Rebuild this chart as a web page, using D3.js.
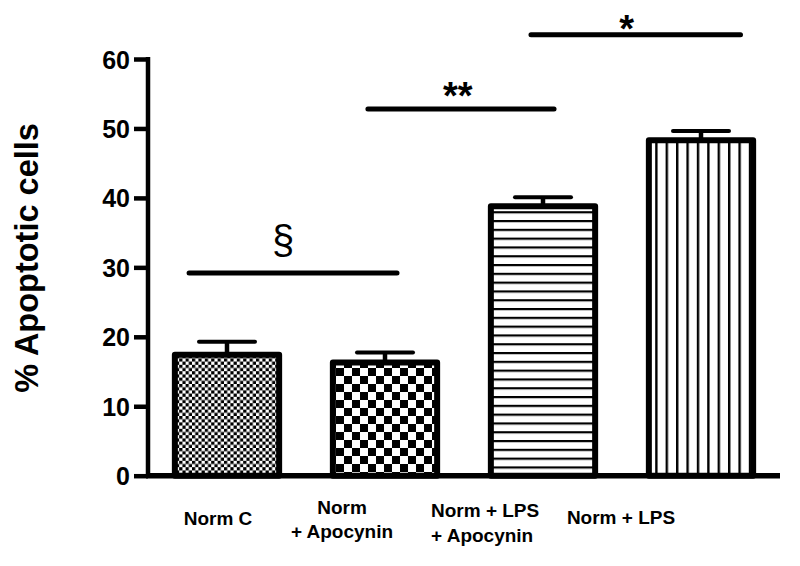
<!DOCTYPE html>
<html><head><meta charset="utf-8">
<script src="https://cdn.jsdelivr.net/npm/d3@7"></script>
<style>body{margin:0;background:#fff}svg{display:block}text{font-family:Arial,"Liberation Sans",sans-serif;font-weight:bold;fill:#000}</style>
</head><body><svg id="c" width="800" height="566"></svg>
<script>
// ---- data ----
const categories = ["Norm C", "Norm + Apocynin", "Norm + LPS + Apocynin", "Norm + LPS"];
const labelLines = [["Norm C"], ["Norm", "+ Apocynin"], ["Norm + LPS", "+ Apocynin"], ["Norm + LPS"]];
const means = [17.4, 16.3, 38.8, 48.3];
const errors = [1.9, 1.45, 1.3, 1.35];
const patterns = ["checkSmall", "checkLarge", "hlines", "vlines"];
const yTicks = [0, 10, 20, 30, 40, 50, 60];
const yTitle = "% Apoptotic cells";
// significance brackets: from/to in category-index units, level in y units
const sigFrom = [-0.24, 0.892, 1.924];
const sigTo = [1.076, 2.07, 3.25];
const sigLevel = [29.2, 52.8, 63.5];
const sigText = ["§", "**", "*"];
const sigTextPos = [0.355, 1.46, 2.53];

const svg = d3.select("#c");
const x = d3.scaleBand().domain(categories).range([148, 780]).paddingInner(0.34).paddingOuter(0.17);
const y = d3.scaleLinear().domain([0, 60]).range([475.7, 59]);
const step = x.step();
const xi = i => x(categories[0]) + x.bandwidth() / 2 + i * step;

// patterns
const defs = svg.append("defs");
function checker(id, s) {
  const p = defs.append("pattern").attr("id", id).attr("patternUnits", "userSpaceOnUse")
    .attr("width", 2 * s).attr("height", 2 * s);
  p.append("rect").attr("width", 2 * s).attr("height", 2 * s).attr("fill", "#fff");
  p.append("rect").attr("width", s).attr("height", s).attr("fill", "#000");
  p.append("rect").attr("x", s).attr("y", s).attr("width", s).attr("height", s).attr("fill", "#000");
}
checker("checkSmall", 3.2);
checker("checkLarge", 8);
{
  const p = defs.append("pattern").attr("id", "hlines").attr("patternUnits", "userSpaceOnUse").attr("width", 10).attr("height", 8.8);
  p.append("rect").attr("width", 10).attr("height", 8.8).attr("fill", "#fff");
  p.append("rect").attr("y", 0).attr("width", 10).attr("height", 2.2).attr("fill", "#000");
}
{
  const p = defs.append("pattern").attr("id", "vlines").attr("patternUnits", "userSpaceOnUse").attr("width", 10.4).attr("height", 10);
  p.append("rect").attr("width", 10.4).attr("height", 10).attr("fill", "#fff");
  p.append("rect").attr("x", 0).attr("width", 2.4).attr("height", 10).attr("fill", "#000");
}

// error bars (behind bars)
const capW = 56;
categories.forEach((c, i) => {
  const cx = x(c) + x.bandwidth() / 2;
  svg.append("line").attr("x1", cx).attr("x2", cx).attr("y1", y(means[i])).attr("y2", y(means[i] + errors[i]))
    .attr("stroke", "#000").attr("stroke-width", 4.5);
  svg.append("line").attr("x1", cx - capW / 2).attr("x2", cx + capW / 2).attr("y1", y(means[i] + errors[i])).attr("y2", y(means[i] + errors[i]))
    .attr("stroke", "#000").attr("stroke-width", 4).attr("stroke-linecap", "round");
});

// bars
svg.selectAll("rect.bar").data(categories).join("rect").attr("class", "bar")
  .attr("x", d => x(d)).attr("width", x.bandwidth())
  .attr("y", (d, i) => y(means[i])).attr("height", (d, i) => y(0) - y(means[i]))
  .attr("fill", (d, i) => `url(#${patterns[i]})`)
  .attr("stroke", "#000").attr("stroke-width", 6).attr("stroke-linejoin", "round");

// y axis
const yAxis = svg.append("g").attr("transform", "translate(148,0)")
  .call(d3.axisLeft(y).tickValues(yTicks).tickSize(14).tickPadding(4));
yAxis.select(".domain").attr("stroke-width", 4.5).attr("d", `M0,${y(60) - 2}V${y(0)}`);
yAxis.selectAll(".tick line").attr("stroke-width", 4.5);
yAxis.selectAll(".tick text").style("font-size", "25px").style("font-family", "Arial,'Liberation Sans',sans-serif").style("font-weight", "bold").attr("dy", "0.36em");

// x axis line
svg.append("line").attr("x1", 146).attr("x2", 780).attr("y1", y(0)).attr("y2", y(0)).attr("stroke", "#000").attr("stroke-width", 5.5);

// y title
svg.append("text").attr("transform", `translate(38,258) rotate(-90)`).attr("text-anchor", "middle")
  .style("font-size", "32.5px").text(yTitle);

// x labels
const labelDx = [-9, -43, -112, -80];
const labelAnchor = ["middle", "middle", "start", "middle"];
const labelBase = [[525], [514, 538], [517, 542], [524]];
labelLines.forEach((lines, i) => {
  const cx = x(categories[i]) + x.bandwidth() / 2 + labelDx[i];
  lines.forEach((t, j) => {
    svg.append("text").attr("x", cx).attr("y", labelBase[i][j]).attr("text-anchor", labelAnchor[i])
      .style("font-size", "19px").text(t);
  });
});

// significance brackets
sigText.forEach((t, i) => {
  svg.append("line").attr("x1", xi(sigFrom[i])).attr("x2", xi(sigTo[i])).attr("y1", y(sigLevel[i])).attr("y2", y(sigLevel[i]))
    .attr("stroke", "#000").attr("stroke-width", 5).attr("stroke-linecap", "round");
});
svg.append("text").attr("x", xi(sigTextPos[0])).attr("y", 254).attr("text-anchor", "middle").style("font-size", "40px").style("font-weight", "normal").text(sigText[0]);
svg.append("text").attr("x", xi(sigTextPos[1])).attr("y", 109).attr("text-anchor", "middle").style("font-size", "38px").text(sigText[1]);
svg.append("text").attr("x", xi(sigTextPos[2])).attr("y", 42).attr("text-anchor", "middle").style("font-size", "38px").text(sigText[2]);
</script></body></html>
